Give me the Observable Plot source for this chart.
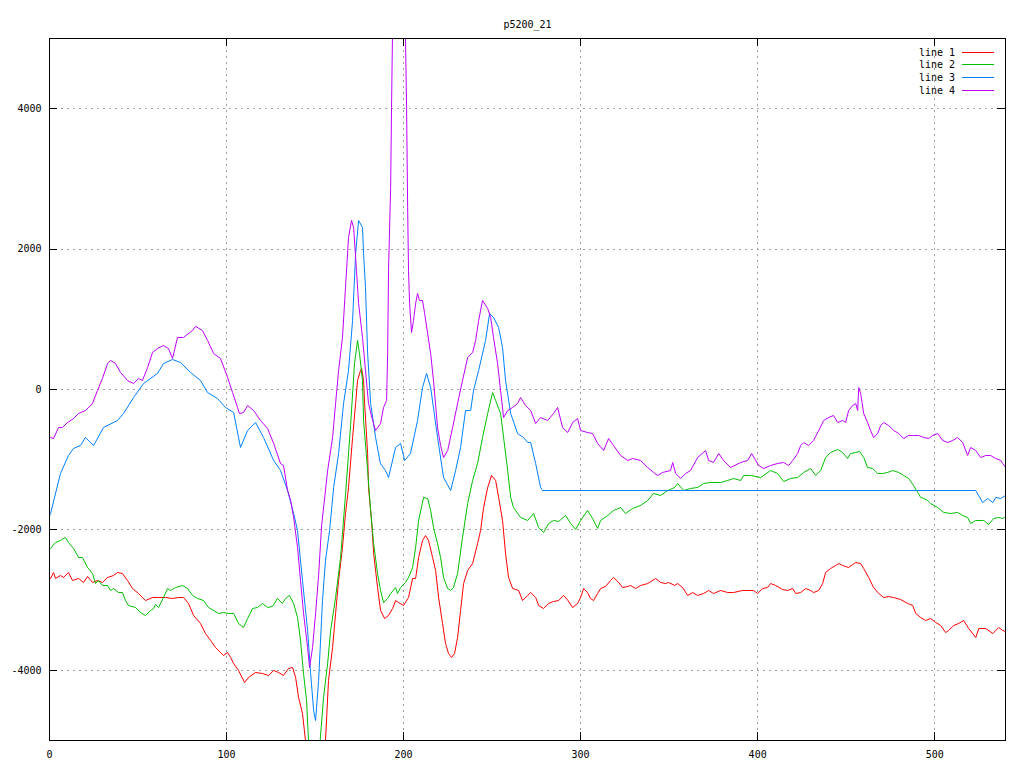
<!DOCTYPE html>
<html>
<head>
<meta charset="utf-8">
<script src="https://cdn.jsdelivr.net/npm/d3@7"></script>
<script src="https://cdn.jsdelivr.net/npm/@observablehq/plot@0.6"></script>
<style>
  html, body { margin: 0; padding: 0; background: #fff; }
  #chart { position: relative; width: 1024px; height: 768px; }
</style>
</head>
<body>
<div id="chart"></div>
<script>
const chartTitle = "p5200_21";
const xTicks = [0, 100, 200, 300, 400, 500];
const yTicks = [-4000, -2000, 0, 2000, 4000];
const seriesNames = ["line 1", "line 2", "line 3", "line 4"];
const seriesColors = ["#ff0000", "#00c000", "#0080ff", "#c000ff"];

const line1 = [[0,-2690],[0.6,-2692],[2.3,-2607],[3.4,-2692],[6.2,-2650],[7.9,-2678],[10.7,-2607],[13.0,-2721],[16.4,-2692],[19.2,-2749],[21.5,-2664],[24.3,-2749],[27.1,-2721],[29.9,-2749],[32.8,-2678],[36.2,-2650],[38.4,-2607],[41.2,-2621],[44.1,-2721],[46.9,-2835],[50.3,-2906],[54.2,-3006],[58.2,-2963],[61.6,-2963],[65.5,-2963],[69.5,-2977],[72.9,-2963],[75.7,-2963],[78.5,-3048],[81.4,-3219],[85.3,-3333],[88.1,-3476],[91.0,-3575],[93.8,-3675],[96.6,-3746],[98.3,-3789],[100.6,-3746],[102.3,-3818],[104.0,-3903],[106.8,-4003],[110.2,-4174],[112.4,-4103],[116.4,-4031],[120.3,-4046],[123.7,-4074],[126.6,-4003],[129.4,-4031],[132.2,-4074],[135.0,-3974],[137.3,-3960],[139.0,-4100],[140.7,-4387],[142.9,-4615],[144.6,-5000],[147,-5600],[150,-5900],[153,-5600],[155.9,-5000],[157.6,-4145],[159.9,-3675],[161.6,-3191],[163.3,-2721],[165.5,-2250],[167.2,-1766],[168.9,-1396],[171.2,-684],[172.9,-199],[174.0,128],[175.7,271],[176.3,299],[177.4,128],[178.0,-199],[179.7,-912],[180.2,-1396],[181.9,-1866],[183.1,-2336],[185.3,-2821],[187.0,-3148],[189.3,-3262],[191.5,-3219],[193.8,-3120],[195.5,-3006],[197.2,-3034],[200.0,-3077],[202.8,-2963],[205.1,-2692],[206.8,-2692],[208.5,-2393],[210.7,-2151],[212.4,-2080],[214.1,-2151],[216.4,-2393],[218.1,-2578],[219.8,-2963],[222.0,-3333],[223.7,-3618],[225.4,-3761],[227.1,-3818],[228.8,-3761],[230.5,-3533],[232.2,-3148],[233.9,-2764],[236.2,-2578],[239.0,-2479],[241.8,-2194],[243.5,-2009],[245.2,-1681],[247.5,-1396],[249.7,-1225],[252.0,-1296],[253.7,-1538],[255.9,-1866],[257.6,-2336],[259.3,-2678],[261.6,-2835],[265.0,-2863],[267.2,-3006],[270.1,-2934],[271.8,-2892],[274.6,-2963],[276.3,-3077],[279.1,-3120],[281.9,-3048],[284.7,-3020],[287.6,-3006],[290.4,-2934],[292.7,-3000],[295.5,-3105],[298.3,-3048],[300.0,-2963],[301.7,-2835],[303.9,-2892],[305.6,-2977],[307.3,-3006],[309.6,-2906],[311.3,-2835],[314.1,-2806],[316.9,-2721],[318.6,-2678],[321.5,-2749],[323.7,-2821],[326.6,-2806],[328.2,-2792],[331.1,-2835],[333.9,-2792],[337.9,-2764],[342.4,-2692],[345.2,-2749],[348.0,-2764],[349.7,-2749],[353.1,-2792],[354.8,-2764],[357.6,-2821],[360.5,-2934],[363.3,-2892],[366.1,-2934],[369.5,-2906],[372.3,-2863],[375.1,-2906],[379.1,-2863],[383.1,-2892],[386.4,-2892],[391.5,-2863],[397.7,-2863],[400.0,-2906],[402.8,-2835],[405.6,-2821],[407.3,-2764],[410.2,-2792],[414.1,-2849],[416.9,-2863],[419.8,-2835],[421.5,-2906],[424.3,-2892],[427.1,-2835],[429.9,-2863],[431.6,-2892],[434.5,-2863],[436.7,-2764],[438.4,-2607],[441.2,-2550],[444.1,-2507],[445.8,-2479],[448.0,-2507],[449.7,-2521],[451.4,-2536],[453.7,-2493],[455.4,-2464],[458.2,-2479],[459.9,-2550],[462.7,-2678],[465.5,-2821],[468.4,-2906],[471.2,-2963],[474.0,-2950],[476.8,-2963],[480.8,-2992],[484.7,-3048],[487.6,-3077],[489.3,-3191],[492.1,-3248],[494.9,-3291],[497.7,-3262],[500.6,-3319],[503.4,-3362],[506.2,-3462],[507.9,-3433],[510.7,-3362],[513.6,-3333],[516.4,-3291],[519.2,-3405],[523.2,-3533],[524.9,-3405],[528.8,-3405],[532.8,-3476],[534.5,-3433],[536.2,-3390],[538.4,-3433],[540.1,-3448]];

const line2 = [[0,-2280],[0.6,-2265],[3.4,-2179],[6.2,-2151],[9.0,-2108],[10.7,-2179],[13.6,-2265],[16.4,-2393],[18.6,-2393],[21.5,-2536],[24.3,-2621],[26.0,-2764],[27.7,-2721],[29.9,-2792],[32.8,-2792],[34.5,-2863],[36.2,-2835],[39.0,-2892],[41.2,-2892],[42.9,-3006],[44.6,-3077],[48.6,-3105],[51.4,-3177],[54.2,-3219],[57.1,-3148],[58.8,-3120],[59.9,-3063],[61.6,-3105],[64.4,-2963],[66.7,-2835],[68.4,-2863],[71.2,-2821],[75.1,-2792],[78.0,-2835],[80.8,-2934],[83.6,-2977],[87.0,-3006],[89.8,-3105],[92.7,-3148],[95.5,-3191],[98.3,-3177],[101.1,-3191],[104.0,-3191],[106.8,-3333],[109.6,-3390],[111.9,-3262],[114.7,-3120],[117.5,-3105],[120.3,-3048],[123.2,-3105],[126.0,-3090],[128.8,-2977],[131.6,-3048],[133.3,-2977],[135.6,-2934],[137.9,-3048],[140.1,-3248],[141.8,-3575],[143.5,-4046],[145.2,-4430],[146.3,-5000],[148.5,-5600],[151,-5600],[154.8,-4387],[157.1,-3903],[158.8,-3433],[161.6,-2963],[164.4,-2400],[167.2,-1500],[170.1,-500],[172.3,370],[174.0,698],[175.1,513],[176.8,128],[177.4,-442],[179.7,-1154],[181.4,-1724],[183.1,-2194],[185.3,-2621],[187.0,-2863],[188.7,-3034],[191.0,-2977],[192.7,-2906],[195.5,-2821],[196.6,-2906],[198.3,-2821],[201.1,-2749],[202.8,-2678],[205.1,-2536],[206.8,-2251],[208.5,-1866],[211.3,-1538],[213.6,-1553],[215.3,-1724],[216.9,-1966],[219.2,-2194],[220.9,-2393],[222.6,-2678],[224.9,-2835],[226.6,-2863],[228.2,-2821],[230.5,-2621],[233.3,-2108],[236.2,-1624],[239.0,-1296],[241.8,-1054],[244.6,-684],[247.5,-342],[250.3,-43],[252.0,-157],[254.8,-342],[256.5,-684],[258.8,-1154],[260.5,-1538],[262.1,-1681],[266.1,-1823],[270.1,-1866],[273.4,-1766],[276.3,-1966],[279.1,-2037],[281.9,-1909],[284.7,-1866],[287.6,-1880],[291.5,-1795],[294.4,-1909],[297.2,-1994],[300.0,-1866],[303.9,-1724],[306.8,-1838],[309.6,-1980],[311.3,-1866],[315.3,-1795],[318.6,-1724],[322.6,-1681],[325.4,-1766],[329.4,-1695],[333.9,-1652],[337.9,-1581],[341.2,-1481],[345.2,-1510],[349.2,-1439],[353.1,-1396],[354.8,-1339],[358.2,-1439],[362.1,-1410],[366.1,-1396],[369.5,-1339],[373.4,-1325],[379.1,-1325],[383.1,-1296],[386.4,-1268],[390.4,-1296],[392.1,-1225],[396.0,-1225],[401.7,-1254],[407.3,-1154],[411.3,-1197],[414.7,-1311],[418.6,-1268],[422.6,-1254],[426.0,-1182],[429.9,-1125],[432.8,-1225],[435.6,-1154],[438.4,-969],[441.2,-897],[445.2,-855],[448.0,-897],[450.8,-983],[452.5,-912],[455.4,-897],[457.6,-883],[459.9,-969],[462.1,-1111],[465.0,-1125],[467.8,-1197],[470.6,-1197],[473.4,-1182],[476.3,-1154],[479.7,-1182],[482.5,-1225],[485.3,-1268],[488.1,-1368],[490.4,-1467],[492.1,-1538],[493.8,-1553],[496.0,-1581],[497.7,-1624],[501.7,-1681],[505.1,-1752],[509.0,-1766],[513.0,-1752],[515.8,-1795],[518.6,-1823],[520.3,-1909],[523.2,-1866],[527.7,-1866],[530.5,-1923],[533.3,-1838],[536.2,-1823],[538.4,-1838],[540.1,-1809]];

const line3 = [[0,-1800],[0.6,-1766],[6.2,-1197],[10.7,-940],[13.6,-840],[17.5,-798],[20.3,-684],[24.9,-798],[30.5,-541],[38.4,-442],[41.8,-342],[47.5,-114],[53.1,85],[61,228],[64.4,370],[69.5,427],[74,385],[79.7,242],[85.3,128],[89.3,-43],[94.9,-128],[99.4,-256],[104,-328],[107.9,-826],[111.9,-584],[116.4,-470],[120.9,-684],[126.6,-1011],[130.5,-1154],[134.5,-1439],[137.9,-1766],[140.1,-2009],[142.9,-2721],[145.8,-3433],[147.5,-4046],[149.2,-4573],[150.3,-4715],[152,-4145],[154.2,-3006],[155.9,-2436],[158.2,-2009],[160.5,-1396],[163.3,-912],[166.1,-199],[168.9,271],[171.2,983],[172.9,1937],[174.6,2407],[176.8,2308],[177.4,1937],[178.5,1453],[179.7,513],[181.4,-199],[184.2,-684],[186.9,-1054],[189.8,-1154],[191.5,-1254],[195.5,-826],[198.3,-769],[200.6,-1011],[203.9,-912],[207.9,-442],[210.7,28],[213,228],[215.3,28],[219.2,-684],[222.6,-1254],[226.6,-1439],[229.4,-1154],[232.2,-826],[235,-299],[237.9,-299],[239.5,-14],[242.4,271],[246.3,698],[248.6,1083],[250.8,1026],[253.7,883],[255.9,598],[257.6,128],[260.5,-342],[264.4,-627],[267.8,-684],[270.1,-755],[271.8,-755],[274.6,-1054],[277.4,-1396],[278.5,-1439],[523.2,-1439],[527.1,-1610],[529.9,-1553],[532.8,-1610],[534.5,-1538],[537.3,-1553],[540,-1510]];

const line4 = [[0,-700],[0.6,-684],[2.3,-698],[5.1,-541],[7.3,-541],[10.2,-470],[13.6,-413],[16.4,-342],[20.3,-299],[24.3,-199],[27.1,-14],[29.9,157],[32.8,370],[34.5,413],[37.3,370],[40.1,242],[44.1,128],[47.5,85],[50.3,157],[52.5,128],[55.4,313],[58.2,527],[61.0,584],[64.4,627],[67.2,584],[69.5,442],[72.3,741],[75.7,741],[78.5,798],[80.8,840],[82.5,900],[86.4,840],[89.3,698],[92.7,513],[96.6,442],[100.6,171],[103.4,-43],[106.2,-256],[107.3,-342],[109.6,-328],[111.9,-228],[115.3,-299],[119.2,-442],[123.2,-556],[126.6,-769],[130.5,-1054],[132.2,-1083],[134.5,-1439],[136.2,-1581],[137.9,-1823],[140.1,-2250],[141.8,-2721],[143.5,-3191],[145.8,-3675],[146.9,-3960],[148.6,-3675],[150.3,-3191],[152.0,-2650],[153.7,-1940],[157.1,-1154],[159.9,-684],[161.6,-199],[163.3,271],[165.5,741],[167.2,1453],[168.9,2165],[170.6,2407],[171.8,2308],[173.4,1695],[174.6,1225],[176.8,741],[178.5,271],[180.2,-199],[182.5,-442],[184.2,-584],[187.0,-484],[188.7,-256],[190.4,-157],[191.0,513],[191.5,1695],[192.7,2877],[193.2,4017],[195,7500],[199.5,7500],[201.7,4017],[202.3,2593],[202.8,1695],[203.4,1225],[204.5,812],[205.6,983],[206.8,1225],[207.9,1368],[209.0,1268],[210.7,1268],[211.9,1083],[213.6,798],[215.3,513],[216.9,128],[219.2,-541],[220.9,-798],[222.6,-969],[224.9,-869],[227.7,-541],[230.5,-199],[233.3,128],[236.2,456],[239.0,527],[240.7,698],[242.4,983],[244.6,1268],[247.5,1154],[249.2,1026],[250.8,741],[253.1,370],[254.8,-14],[256.5,-399],[258.8,-299],[261.6,-256],[264.4,-199],[266.1,-114],[268.9,-228],[271.8,-299],[274.6,-484],[277.4,-399],[281.4,-442],[284.7,-342],[287.0,-256],[289.8,-541],[292.7,-613],[295.5,-470],[298.3,-413],[300.0,-584],[303.9,-613],[306.8,-627],[309.6,-769],[313.0,-869],[315.8,-698],[318.6,-798],[322.6,-940],[326.6,-1011],[329.4,-983],[333.9,-1011],[337.9,-1111],[341.2,-1182],[343.5,-1225],[346.3,-1182],[350.8,-1154],[352.0,-1040],[353.7,-1197],[356.5,-1268],[359.3,-1197],[362.1,-1154],[366.1,-969],[370.6,-869],[372.3,-1011],[375.1,-1040],[378.0,-912],[380.8,-1011],[384.7,-1111],[390.4,-1040],[394.4,-1011],[396.6,-912],[398.9,-1011],[400.6,-1083],[403.4,-1125],[407.3,-1083],[411.3,-1054],[414.7,-1040],[417.5,-1083],[419.8,-1011],[422.6,-912],[424.3,-798],[426.0,-755],[428.8,-798],[431.6,-726],[434.5,-584],[437.3,-442],[440.1,-399],[442.9,-370],[445.2,-470],[448.0,-442],[449.7,-470],[451.4,-299],[453.7,-228],[455.4,-199],[456.5,-299],[457.1,28],[458.2,-57],[459.9,-342],[462.1,-470],[463.8,-584],[465.5,-684],[467.8,-627],[469.5,-513],[471.2,-470],[474.0,-513],[476.8,-584],[479.7,-627],[482.5,-698],[485.3,-655],[488.1,-655],[491.0,-655],[493.8,-684],[496.6,-698],[498.9,-655],[501.7,-627],[504.5,-726],[507.3,-755],[510.2,-726],[513.0,-684],[515.8,-755],[518.6,-940],[520.3,-826],[523.2,-869],[526.0,-969],[528.8,-940],[531.6,-940],[534.5,-983],[537.3,-1011],[538.4,-1054],[540.1,-1111]];

const seriesValues = [line1, line2, line3, line4];
const rows = seriesValues.flatMap((pts, i) =>
  pts.map(([x, y]) => ({series: seriesNames[i], x, y}))
);

const W = 1024, H = 768;
const mL = 49, mR = 19, mT = 38, mB = 28;
const innerH = H - mT - mB;
const innerW = W - mL - mR;
const tickLen = 8;
const plainNum = d => String(d);

const plot = Plot.plot({
  width: W,
  height: H,
  marginLeft: mL,
  marginRight: mR,
  marginTop: mT,
  marginBottom: mB,
  style: {fontFamily: "'DejaVu Sans Mono', monospace", fontSize: "10px", background: "#fff", overflow: "visible"},
  x: {domain: [0, 540]},
  y: {domain: [-5000, 5000]},
  color: {domain: seriesNames, range: seriesColors},
  marks: [
    Plot.ruleX(xTicks.filter(d => d > 0), {x: d => d, stroke: "#a0a0a0", strokeDasharray: "2,4", shapeRendering: "crispEdges"}),
    Plot.ruleY(yTicks, {y: d => d, stroke: "#a0a0a0", strokeDasharray: "2,4", shapeRendering: "crispEdges"}),
    Plot.line(rows, {x: "x", y: "y", z: "series", stroke: "series", strokeWidth: 1, clip: true, curve: "linear"}),
    Plot.tickX(xTicks, {x: d => d, insetTop: innerH - tickLen, stroke: "#000", shapeRendering: "crispEdges"}),
    Plot.tickX(xTicks, {x: d => d, insetBottom: innerH - tickLen, stroke: "#000", shapeRendering: "crispEdges"}),
    Plot.tickY(yTicks, {y: d => d, insetRight: innerW - tickLen, stroke: "#000", shapeRendering: "crispEdges"}),
    Plot.tickY(yTicks, {y: d => d, insetLeft: innerW - tickLen, stroke: "#000", shapeRendering: "crispEdges"}),
    Plot.frame({stroke: "#000", shapeRendering: "crispEdges"}),
    Plot.axisX(xTicks, {tickSize: 0, tickPadding: 10, label: null, fill: "#000", tickFormat: plainNum}),
    Plot.axisY(yTicks, {tickSize: 0, tickPadding: 8, label: null, fill: "#000", tickFormat: plainNum}),
    Plot.text([chartTitle], {frameAnchor: "top", dy: -18, text: d => d, fill: "#000", fontSize: 10})
  ]
});

document.getElementById("chart").appendChild(plot);

// legend (gnuplot style, top right inside the frame)
const svg = d3.select(plot);
const lg = svg.append("g").attr("class", "legend")
  .attr("font-family", "'DejaVu Sans Mono', monospace").attr("font-size", 10);
seriesNames.forEach((name, i) => {
  const cy = 52 + i * 12.8;
  lg.append("text").attr("x", 955).attr("y", cy).attr("dy", "0.35em")
    .attr("text-anchor", "end").attr("fill", "#000").text(name);
  lg.append("line").attr("x1", 962).attr("x2", 994).attr("y1", cy).attr("y2", cy)
    .attr("stroke", seriesColors[i]).attr("stroke-width", 1).attr("shape-rendering", "crispEdges");
});
</script>
</body>
</html>
